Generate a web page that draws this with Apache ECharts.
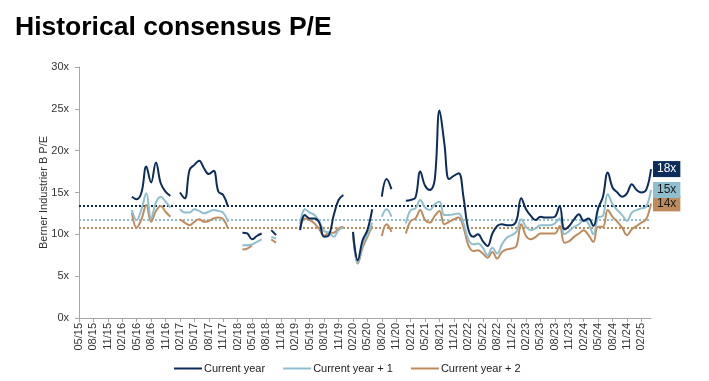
<!DOCTYPE html>
<html>
<head>
<meta charset="utf-8">
<script src="https://cdn.jsdelivr.net/npm/echarts@6/dist/echarts.min.js"></script>
<style>
html,body{margin:0;padding:0;background:#fff;}
#chart{width:709px;height:381px;}
</style>
</head>
<body>
<div id="chart"></div>
<script>
// Monthly categories from 05/15 to 04/25
var categories = [];
(function(){
  var m = 5, y = 15;
  for (var k = 0; k < 120; k++) {
    categories.push((m < 10 ? '0' + m : '' + m) + '/' + y);
    m++; if (m > 12) { m = 1; y++; }
  }
})();

var seriesNames = ['Current year', 'Current year + 1', 'Current year + 2'];

var currentYear = [
  null,null,null,null,null,null,null,null,null,null,null,
  14.5,14.2,15.0,18.1,16.2,18.6,16.1,15.1,14.6,
  null,
  15.0,14.3,17.7,18.3,18.8,17.9,17.2,17.6,15.1,14.7,13.3,
  null,null,
  10.2,10.1,9.4,9.8,10.1,
  null,
  10.5,9.9,
  null,null,null,null,
  10.5,12.3,11.9,11.9,11.4,9.7,9.9,12.3,14.1,14.7,
  null,
  10.3,6.9,9.3,10.5,13.0,
  null,
  14.5,16.6,15.4,
  null,null,
  14.0,14.1,14.4,17.5,15.8,15.3,16.5,24.8,20.9,16.6,17.0,17.3,14.4,10.6,9.7,10.0,9.2,8.6,10.1,11.0,
  11.2,11.1,11.1,11.6,14.3,13.0,12.2,11.7,12.1,12.0,12.0,12.1,13.4,10.6,11.0,11.8,12.4,11.6,11.9,11.0,
  13.1,14.5,17.4,15.6,15.0,14.5,14.9,16.0,15.3,15.0,15.3,17.8
];

var currentYear1 = [
  null,null,null,null,null,null,null,null,null,null,null,
  12.9,11.7,13.0,14.9,11.9,13.8,14.5,13.9,13.2,
  null,
  13.0,12.6,12.6,13.0,12.8,12.5,12.7,12.9,12.8,12.6,11.5,
  null,null,
  8.7,8.7,8.8,9.1,9.4,
  null,
  9.7,9.5,
  null,null,null,null,
  11.2,13.0,12.6,12.3,11.5,10.4,10.2,9.7,10.5,10.8,
  null,
  10.3,6.6,8.8,10.0,11.4,
  null,
  12.1,13.0,12.1,
  null,null,
  11.3,12.9,13.1,14.1,13.2,12.9,13.6,13.9,12.3,12.3,12.4,12.5,11.3,9.4,8.8,8.9,8.4,7.5,8.4,7.7,
  8.8,9.6,9.9,10.3,11.8,10.9,10.5,10.7,11.1,11.1,11.1,11.3,11.9,10.0,10.4,10.9,11.2,11.7,11.3,10.0,
  12.0,12.2,14.8,13.6,12.9,12.3,11.6,12.6,12.9,13.1,13.3,15.3
];

var currentYear2 = [
  null,null,null,null,null,null,null,null,null,null,null,
  12.6,10.8,11.8,13.5,11.5,12.8,13.4,12.7,12.1,
  null,
  11.8,11.4,11.1,11.5,11.8,11.5,11.6,11.9,12.0,11.8,10.7,
  null,null,
  8.2,8.3,8.7,null,null,
  null,
  9.4,9.0,
  null,null,null,null,
  10.7,11.9,11.7,11.3,10.6,9.8,10.2,10.2,10.7,10.9,
  null,
  10.1,6.5,8.4,9.7,11.0,
  null,
  9.8,11.2,10.3,
  null,null,
  10.1,11.6,11.9,12.9,11.7,11.4,12.2,12.8,11.2,11.5,11.8,12.0,10.8,8.7,8.0,8.1,7.7,7.2,7.9,7.1,
  7.9,8.2,8.3,8.6,11.2,9.8,9.4,9.7,10.1,10.1,10.1,10.1,11.0,9.0,9.2,9.7,10.1,10.5,9.9,9.1,
  10.9,10.9,12.9,12.1,11.5,10.8,9.9,10.6,11.0,11.4,11.8,13.7
];

// Historical averages (dotted reference lines)
var averages = [13.4, 11.8, 10.8];

var colors = ['#0c2c5c', '#8fbfcf', '#c08b5c'];
var labelTextColors = ['#ffffff', '#1a1a1a', '#1a1a1a'];
var FONT = 'Liberation Sans, Arial, Helvetica, sans-serif';

var chart = echarts.init(document.getElementById('chart'), null, {renderer: 'canvas'});

function mkSeries(idx, data) {
  return {
    name: seriesNames[idx],
    type: 'line',
    data: data,
    smooth: 0.4,
    connectNulls: false,
    symbol: 'none',
    showSymbol: false,
    lineStyle: {color: colors[idx], width: 2},
    itemStyle: {color: colors[idx]},
    z: 5 - idx,
    endLabel: {
      show: true,
      formatter: function(p){ return Math.round(p.value) + 'x'; },
      backgroundColor: colors[idx],
      color: labelTextColors[idx],
      fontFamily: FONT,
      fontSize: 12,
      lineHeight: 12,
      padding: [2, 4, 2, 4],
      distance: 2
    },
    markLine: {
      silent: true,
      symbol: 'none',
      label: {show: false},
      lineStyle: {type: 'dotted', width: 2, color: colors[idx]},
      data: [{yAxis: averages[idx]}],
      z: 1
    },
    emphasis: {disabled: true}
  };
}

var option = {
  animation: false,
  backgroundColor: '#ffffff',
  title: {
    text: 'Historical consensus P/E',
    left: 10,
    top: 9,
    textStyle: {fontFamily: FONT, fontSize: 26.5, fontWeight: 'bold', color: '#000000'}
  },
  grid: {left: 79, right: 58, top: 67, bottom: 63},
  legend: {
    data: seriesNames,
    top: 358,
    left: 169,
    icon: 'rect',
    itemWidth: 28,
    itemHeight: 2,
    itemGap: 18,
    textStyle: {fontFamily: FONT, fontSize: 11, color: '#222', padding: [0, 0, 0, -3]}
  },
  xAxis: {
    type: 'category',
    data: categories,
    boundaryGap: false,
    axisLine: {lineStyle: {color: '#a6a6a6', width: 1}},
    axisTick: {show: true, interval: 2, length: 4, lineStyle: {color: '#a6a6a6'}},
    axisLabel: {
      interval: 2,
      rotate: 90,
      fontFamily: FONT,
      fontSize: 11,
      color: '#333',
      margin: 5
    },
    splitLine: {show: false}
  },
  yAxis: {
    type: 'value',
    min: 0,
    max: 30,
    interval: 5,
    name: 'Berner Industrier B P/E',
    nameLocation: 'middle',
    nameGap: 30,
    nameMoveOverlap: false,
    nameTextStyle: {fontFamily: FONT, fontSize: 11, color: '#333'},
    axisLine: {show: true, lineStyle: {color: '#a6a6a6', width: 1}},
    axisTick: {show: true, length: 4, lineStyle: {color: '#a6a6a6'}},
    axisLabel: {
      formatter: '{value}x',
      fontFamily: FONT,
      fontSize: 11,
      color: '#333',
      margin: 10
    },
    splitLine: {show: false}
  },
  series: [
    mkSeries(0, currentYear),
    mkSeries(1, currentYear1),
    mkSeries(2, currentYear2)
  ]
};

chart.setOption(option);
</script>
</body>
</html>
